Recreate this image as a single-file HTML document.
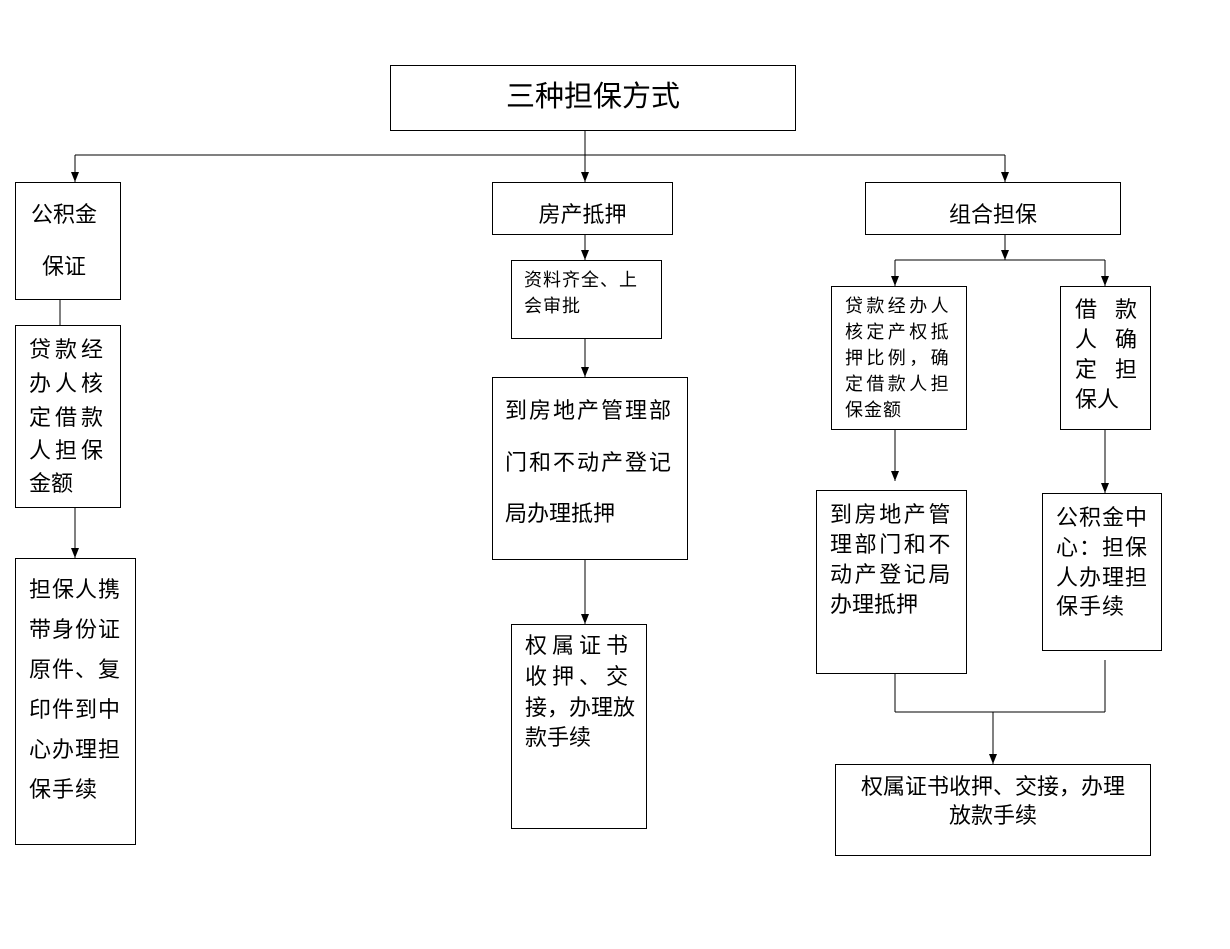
<!DOCTYPE html>
<html><head><meta charset="utf-8"><style>
body{margin:0;width:1230px;height:949px;background:#fff;position:relative;overflow:hidden;font-family:"Liberation Sans","Noto Sans CJK SC",sans-serif;color:#000}
.b{position:absolute;border:1px solid #000;box-sizing:border-box}
.t{position:absolute;white-space:nowrap;font-size:22px;line-height:22px}
.s{font-size:18px;line-height:18px}
svg{position:absolute;left:0;top:0}
</style></head><body>
<svg width="1230" height="949">
<defs><marker id="a" markerWidth="10" markerHeight="8" refX="10" refY="4" orient="auto" markerUnits="userSpaceOnUse"><path d="M0,0 L10,4 L0,8 z" fill="#000"/></marker></defs>
<g stroke="#000" stroke-width="1" fill="none">
<line x1="585" y1="130" x2="585" y2="182" marker-end="url(#a)"/>
<line x1="75" y1="155" x2="1005" y2="155"/>
<line x1="75" y1="155" x2="75" y2="182" marker-end="url(#a)"/>
<line x1="1005" y1="155" x2="1005" y2="182" marker-end="url(#a)"/>
<line x1="60" y1="299" x2="60" y2="325"/>
<line x1="75" y1="507" x2="75" y2="558" marker-end="url(#a)"/>
<line x1="585" y1="234" x2="585" y2="260" marker-end="url(#a)"/>
<line x1="585" y1="338" x2="585" y2="377" marker-end="url(#a)"/>
<line x1="585" y1="559" x2="585" y2="624" marker-end="url(#a)"/>
<line x1="1005" y1="234" x2="1005" y2="260" marker-end="url(#a)"/>
<line x1="895" y1="260" x2="1105" y2="260"/>
<line x1="895" y1="260" x2="895" y2="286" marker-end="url(#a)"/>
<line x1="1105" y1="260" x2="1105" y2="286" marker-end="url(#a)"/>
<line x1="895" y1="429" x2="895" y2="481" marker-end="url(#a)"/>
<line x1="1105" y1="429" x2="1105" y2="493" marker-end="url(#a)"/>
<line x1="895" y1="673" x2="895" y2="712"/>
<line x1="1105" y1="660" x2="1105" y2="712"/>
<line x1="895" y1="712" x2="1105" y2="712"/>
<line x1="993" y1="712" x2="993" y2="764" marker-end="url(#a)"/>
</g></svg>

<div class="b" style="left:390px;top:65px;width:406px;height:66px"></div>
<div class="t" style="left:390px;width:406px;top:83px;font-size:29px;line-height:29px;text-align:center">三种担保方式</div>

<div class="b" style="left:15px;top:182px;width:106px;height:118px"></div>
<div class="t" style="left:31px;top:204px">公积金</div>
<div class="t" style="left:42px;top:256px">保证</div>

<div class="b" style="left:15px;top:325px;width:106px;height:183px"></div>
<div class="t" style="left:29px;top:339px;letter-spacing:4px">贷款经</div>
<div class="t" style="left:29px;top:373px;letter-spacing:4px">办人核</div>
<div class="t" style="left:29px;top:407px;letter-spacing:4px">定借款</div>
<div class="t" style="left:29px;top:440px;letter-spacing:4px">人担保</div>
<div class="t" style="left:29px;top:473px">金额</div>

<div class="b" style="left:15px;top:558px;width:121px;height:287px"></div>
<div class="t" style="left:29px;top:579px;letter-spacing:1px">担保人携</div>
<div class="t" style="left:29px;top:619px;letter-spacing:1px">带身份证</div>
<div class="t" style="left:29px;top:659px;letter-spacing:1px">原件、复</div>
<div class="t" style="left:29px;top:699px;letter-spacing:1px">印件到中</div>
<div class="t" style="left:29px;top:739px;letter-spacing:1px">心办理担</div>
<div class="t" style="left:29px;top:779px;letter-spacing:1px">保手续</div>

<div class="b" style="left:492px;top:182px;width:181px;height:53px"></div>
<div class="t" style="left:492px;width:181px;top:204px;text-align:center">房产抵押</div>

<div class="b" style="left:511px;top:260px;width:151px;height:79px"></div>
<div class="t s" style="left:524px;top:271px;letter-spacing:1px">资料齐全、上</div>
<div class="t s" style="left:524px;top:297px;letter-spacing:1px">会审批</div>

<div class="b" style="left:492px;top:377px;width:196px;height:183px"></div>
<div class="t" style="left:505px;top:400px;letter-spacing:2px">到房地产管理部</div>
<div class="t" style="left:505px;top:452px;letter-spacing:2px">门和不动产登记</div>
<div class="t" style="left:505px;top:503px;letter-spacing:0px">局办理抵押</div>

<div class="b" style="left:511px;top:624px;width:136px;height:205px"></div>
<div class="t" style="left:525px;top:635px;letter-spacing:5px">权属证书</div>
<div class="t" style="left:525px;top:666px;letter-spacing:5px">收押、交</div>
<div class="t" style="left:525px;top:697px">接，办理放</div>
<div class="t" style="left:525px;top:727px">款手续</div>

<div class="b" style="left:865px;top:182px;width:256px;height:53px"></div>
<div class="t" style="left:865px;width:256px;top:204px;text-align:center">组合担保</div>

<div class="b" style="left:831px;top:286px;width:136px;height:144px"></div>
<div class="t s" style="left:845px;top:297px;letter-spacing:3.4px">贷款经办人</div>
<div class="t s" style="left:845px;top:323px;letter-spacing:3.4px">核定产权抵</div>
<div class="t s" style="left:845px;top:349px;letter-spacing:3.4px">押比例，确</div>
<div class="t s" style="left:845px;top:375px;letter-spacing:3.4px">定借款人担</div>
<div class="t s" style="left:845px;top:401px;letter-spacing:1px">保金额</div>

<div class="b" style="left:1060px;top:286px;width:91px;height:144px"></div>
<div class="t" style="left:1075px;top:299px;letter-spacing:18px">借款</div>
<div class="t" style="left:1075px;top:329px;letter-spacing:18px">人确</div>
<div class="t" style="left:1075px;top:359px;letter-spacing:18px">定担</div>
<div class="t" style="left:1075px;top:389px">保人</div>

<div class="b" style="left:816px;top:490px;width:151px;height:184px"></div>
<div class="t" style="left:830px;top:504px;letter-spacing:2.6px">到房地产管</div>
<div class="t" style="left:830px;top:534px;letter-spacing:2.6px">理部门和不</div>
<div class="t" style="left:830px;top:564px;letter-spacing:2.6px">动产登记局</div>
<div class="t" style="left:830px;top:594px">办理抵押</div>

<div class="b" style="left:1042px;top:493px;width:120px;height:158px"></div>
<div class="t" style="left:1056px;top:507px;letter-spacing:1px">公积金中</div>
<div class="t" style="left:1056px;top:537px;letter-spacing:1px">心：担保</div>
<div class="t" style="left:1056px;top:567px;letter-spacing:1px">人办理担</div>
<div class="t" style="left:1056px;top:596px;letter-spacing:1px">保手续</div>

<div class="b" style="left:835px;top:764px;width:316px;height:92px"></div>
<div class="t" style="left:835px;width:316px;top:776px;text-align:center">权属证书收押、交接，办理</div>
<div class="t" style="left:835px;width:316px;top:805px;text-align:center">放款手续</div>
</body></html>
